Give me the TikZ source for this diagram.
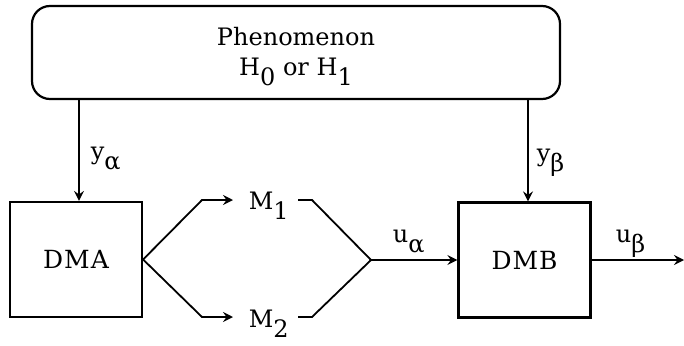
\documentclass[tikz,border=0pt]{standalone}
\usepackage{fontspec}
\setmainfont{DejaVu Serif}
\usetikzlibrary{arrows.meta}
\newcommand{\lowr}[1]{\raisebox{-0.45em}{#1}}
\begin{document}
\begin{tikzpicture}[x=1pt,y=-1pt,
  line width=1.8pt,
  arr/.style={-{Stealth[length=10pt,width=10pt,inset=3.5pt]}},
  blk/.style={draw, line width=2.2pt, minimum width=132pt, minimum height=115pt, inner sep=0pt, font=\fontsize{25}{29}\selectfont\addfontfeatures{LetterSpace=4}},
  lbl/.style={inner sep=0pt, font=\fontsize{24}{28}\selectfont},
  mlbl/.style={inner sep=0pt, font=\fontsize{24}{28}\selectfont},
]
\useasboundingbox (0,0) rectangle (684,345);
\node[draw, rounded corners=18pt, line width=2.2pt, minimum width=528pt, minimum height=93pt, inner sep=0pt] (phen) at (296,52.5) {};
\node[align=center, inner sep=0pt, font=\fontsize{24}{30}\selectfont, anchor=base] (ptext) at (296,75) {Phenomenon\\H\lowr{0} or H\lowr{1}};
\node[blk] (dma) at (76,259.5) {DMA};
\node[blk] (dmb) at (524.5,260) {DMB};
\node[mlbl, anchor=base west] (m1) at (248,209) {M\lowr{1}};
\node[mlbl, anchor=base west] (m2) at (248,327) {M\lowr{2}};
\coordinate (ya) at (79,0);
\coordinate (yb) at (528,0);
\coordinate (s1) at (202,200);
\coordinate (s2) at (202,317);
\coordinate (m1in) at (233,200);
\coordinate (m2in) at (233,317);
\coordinate (m1out) at (298,200);
\coordinate (m2out) at (298,317);
\coordinate (t1) at (312,200);
\coordinate (t2) at (312,317);
\coordinate (join) at (371,260);
\coordinate (out) at (684,260);
\draw[arr] (phen.south -| ya) -- (dma.north -| ya);
\draw[arr] (phen.south -| yb) -- (dmb.north -| yb);
\draw[arr] (dma.east) -- (s1) -- (m1in);
\draw[arr] (dma.east) -- (s2) -- (m2in);
\draw (m1out) -- (t1) -- (join);
\draw (m2out) -- (t2) -- (join);
\draw[arr] (join) -- (dmb.west);
\draw[arr] (dmb.east) -- (out);
\node[lbl, anchor=base west] (lya) at (90,159) {y\lowr{α}};
\node[lbl, anchor=base west] (lyb) at (536,161) {y\lowr{β}};
\node[lbl, anchor=base west] (lua) at (392,242) {u\lowr{α}};
\node[lbl, anchor=base west] (lub) at (615,242) {u\lowr{β}};
\end{tikzpicture}
\end{document}
